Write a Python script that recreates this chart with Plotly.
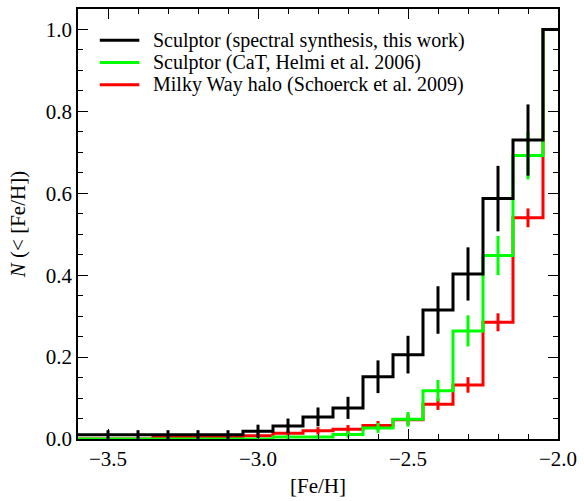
import plotly.graph_objects as go

# Bin centres ([Fe/H]), bin width 0.1
feh = [-3.6, -3.5, -3.4, -3.3, -3.2, -3.1, -3.0, -2.9, -2.8, -2.7, -2.6,
       -2.5, -2.4, -2.3, -2.2, -2.1, -2.0]

# Cumulative fractions
black_vals = [0.0105, 0.0105, 0.0105, 0.0105, 0.0105, 0.0105, 0.019, 0.032, 0.054,
              0.076, 0.152, 0.206, 0.315, 0.403, 0.587, 0.730, 1.0]
green_vals = [0.0, 0.0, 0.0, 0.0, 0.0, 0.0, 0.0, 0.005, 0.005, 0.011, 0.027,
              0.048, 0.118, 0.264, 0.448, 0.692, 1.0]
red_vals = [0.0, 0.0, 0.0, 0.004, 0.004, 0.004, 0.008, 0.014, 0.020, 0.024, 0.033,
            0.047, 0.085, 0.132, 0.285, 0.540, 1.0]

# Error bars (half-lengths)
black_err = [0.0, 0.011, 0.011, 0.011, 0.011, 0.011, 0.016, 0.018, 0.023, 0.027,
             0.040, 0.046, 0.058, 0.065, 0.080, 0.087, 0.0]
green_err = [0.0, 0.0, 0.0, 0.0, 0.0, 0.0, 0.0, 0.005, 0.005, 0.008, 0.012,
             0.018, 0.026, 0.038, 0.048, 0.058, 0.0]
red_err = [0.0, 0.0, 0.0, 0.005, 0.005, 0.005, 0.006, 0.008, 0.009, 0.010, 0.011,
           0.013, 0.014, 0.019, 0.022, 0.023, 0.0]

names = ["Sculptor (spectral synthesis, this work)",
         "Sculptor (CaT, Helmi et al. 2006)",
         "Milky Way halo (Schoerck et al. 2009)"]
colors = ["#000000", "#00ff00", "#ff0000"]

x_ticks = [-3.5, -3.0, -2.5, -2.0]
y_ticks = [0.0, 0.2, 0.4, 0.6, 0.8, 1.0]

FONT = "Liberation Serif, Times New Roman, serif"

fig = go.Figure()

series = [(red_vals, red_err, names[2], colors[2]),
          (green_vals, green_err, names[1], colors[1]),
          (black_vals, black_err, names[0], colors[0])]

for vals, errs, name, col in series:
    fig.add_trace(go.Scatter(
        x=feh, y=vals, mode="lines", name=name,
        line=dict(color=col, width=3, shape="hvh"),
        showlegend=False))
    fig.add_trace(go.Scatter(
        x=feh, y=vals, mode="markers", showlegend=False, hoverinfo="skip",
        marker=dict(size=1, color=col),
        error_y=dict(type="data", array=errs, visible=True, color=col,
                     thickness=3, width=0)))

# Legend drawn in paper coordinates (compact IDL-style legend)
leg_x0, leg_x1, leg_tx = 0.0454, 0.1278, 0.1546
leg_rows = [0.9274, 0.8756, 0.8237]
for name, col, yy in zip(names, colors, leg_rows):
    fig.add_shape(type="line", xref="paper", yref="paper",
                  x0=leg_x0, x1=leg_x1, y0=yy, y1=yy,
                  line=dict(color=col, width=3))
    fig.add_annotation(xref="paper", yref="paper", x=leg_tx, y=yy,
                       text=name, showarrow=False, xanchor="left", yanchor="middle",
                       borderpad=0,
                       font=dict(family=FONT, size=20, color="black"))

axis_common = dict(
    showline=True, linecolor="black", linewidth=1.5, mirror="ticks",
    ticks="inside", ticklen=10, tickwidth=1.2, tickcolor="black",
    showgrid=False, zeroline=False,
    tickfont=dict(family=FONT, size=21, color="black"),
)

fig.update_xaxes(
    range=[-3.6, -2.0], tickvals=x_ticks, tickformat=".1f",
    minor=dict(dtick=0.1, tick0=-3.6, ticks="inside", ticklen=5, tickwidth=1.2,
               tickcolor="black", showgrid=False),
    title=dict(text="[Fe/H]", font=dict(family=FONT, size=21, color="black"), standoff=8),
    **axis_common)
fig.update_yaxes(
    range=[0.0, 1.05], tickvals=y_ticks, tickformat=".1f",
    minor=dict(dtick=0.05, tick0=0, ticks="inside", ticklen=5, tickwidth=1.2,
               tickcolor="black", showgrid=False),
    title=dict(text="<i>N</i> (&lt; [Fe/H])", font=dict(family=FONT, size=21, color="black"),
               standoff=14),
    **axis_common)

fig.update_layout(
    width=584, height=501,
    margin=dict(l=78, r=21, t=7, b=60),
    paper_bgcolor="white", plot_bgcolor="white",
    font=dict(family=FONT, size=21, color="black"),
    showlegend=False,
)

fig.write_html("out.html")
